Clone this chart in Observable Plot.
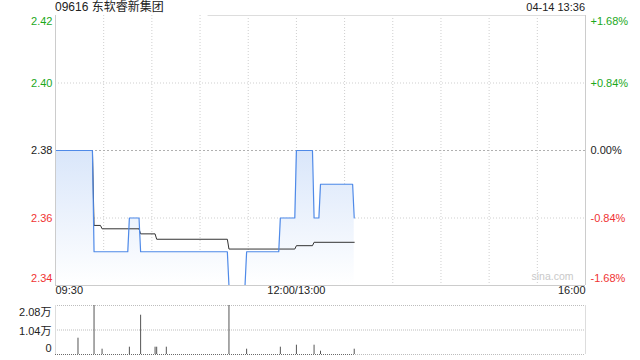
<!DOCTYPE html>
<html>
<head>
<meta charset="utf-8">
<script src="https://cdn.jsdelivr.net/npm/d3@7"></script>
<script src="https://cdn.jsdelivr.net/npm/@observablehq/plot@0.6"></script>
<style>
  html, body { margin: 0; padding: 0; background: #fff; }
  #wrap { position: relative; width: 640px; height: 360px; overflow: hidden; }
  .hdr { position: absolute; top: 0; line-height: 14px; color: #222;
         font-family: "Liberation Sans", Arial, "Noto Sans CJK SC", sans-serif; white-space: nowrap; }
  #title { left: 55px; font-size: 12px; }
  #stamp { right: 55px; font-size: 11px; }
  svg { display: block; }
</style>
</head>
<body>
<div id="wrap">
  <div id="main"></div>
  <div id="vol"></div>
  <div class="hdr" id="title"></div>
  <div class="hdr" id="stamp"></div>
</div>
<script>
// ---------- data ----------
const titleText = "09616 东软睿新集团";
const stampText = "04-14 13:36";
const prevClose = 2.38;

const priceTimes  = ["09:30","09:53","09:54","10:15","10:16","10:22","10:23","11:17","11:18","11:28","11:29","11:49","11:50","11:59","12:00","13:10","13:11","13:14","13:15","13:35","13:36"];
const priceValues = [2.38,  2.38,   2.35,   2.35,   2.36,   2.36,   2.35,   2.35,   2.34,   2.34,   2.35,   2.35,   2.36,   2.36,   2.38,   2.38,   2.36,   2.36,   2.37,   2.37,   2.36];

const avgTimes  = ["09:30","09:53","09:54","09:58","09:59","10:22","10:23","10:32","10:33","11:17","11:18","11:59","12:00","13:10","13:11","13:36"];
const avgValues = [2.38,  2.38,   2.3578, 2.3578, 2.3568, 2.3568, 2.3553, 2.3553, 2.3537, 2.3537, 2.3508, 2.3508, 2.3518, 2.3518, 2.3528, 2.3528];

const volTimes  = ["09:44","09:54","09:59","10:16","10:23","10:32","10:33","10:39","11:18","11:29","11:50","12:00","13:11","13:15","13:36"];
const volValues = [6920,  20800,  2250,   3100,   16680,  3100,   3100,   3100,   20800,  2250,   3100,   3950,   3950,   1400,   2250];

const priceTicks = [2.42, 2.40, 2.38, 2.36, 2.34];
const volTicks = [20800, 10400, 0];
const gridTimes = ["10:00","10:30","11:00","11:30","12:00","13:30","14:00","14:30","15:00","15:30"];
const xLabels = ["09:30", "12:00/13:00", "16:00"];
const watermark = "sina.com";

// ---------- helpers ----------
function idx(t) {
  const [h, m] = t.split("/")[0].split(":").map(Number);
  const mm = h * 60 + m;
  return mm <= 720 ? mm - 570 : 150 + (mm - 780);
}
const price = priceTimes.map((t, i) => ({i: idx(t), p: priceValues[i]}));
const avg = avgTimes.map((t, i) => ({i: idx(t), p: avgValues[i]}));
const vol = volTimes.map((t, i) => ({i: idx(t), v: volValues[i]}));
const endIdx = idx("16:00");
const GREEN = "#1ba81b", RED = "#f03333", DARK = "#222";
const colorOf = d => d > prevClose + 1e-9 ? GREEN : d < prevClose - 1e-9 ? RED : DARK;
const pct = d => { const v = (d - prevClose) / prevClose * 100; return (v > 0.00001 ? "+" : "") + (Math.abs(v) < 1e-6 ? 0 : v).toFixed(2) + "%"; };
const font = "'Liberation Sans', Arial, 'Noto Sans CJK SC', sans-serif";
const yMin = priceTicks[priceTicks.length - 1], yMax = priceTicks[0];
const midTicks = priceTicks.slice(1, -1);

document.getElementById("title").textContent = titleText;
document.getElementById("stamp").textContent = stampText;

// ---------- main chart ----------
const main = Plot.plot({
  width: 640, height: 300,
  marginLeft: 55, marginRight: 55, marginTop: 15, marginBottom: 15,
  x: {domain: [0, endIdx], axis: null},
  y: {domain: [yMin, yMax], axis: null},
  color: {type: "identity"},
  style: {fontFamily: font, fontSize: "11px", background: "transparent", overflow: "visible"},
  marks: [
    Plot.ruleX(gridTimes.map(idx), {stroke: "#cfcfcf", strokeDasharray: "1,2"}),
    Plot.ruleY([2.40, 2.36], {stroke: "#cfcfcf", strokeDasharray: "1,2"}),
    Plot.ruleY([prevClose], {stroke: "#b0b0b0", strokeDasharray: "2,2"}),
    Plot.area(price, {x1: "i", y1: () => yMin, y2: "p", fill: "url(#pgrad)"}),
    Plot.line(avg, {x: "i", y: "p", stroke: "#333", strokeWidth: 1}),
    Plot.line(price, {x: "i", y: "p", stroke: "#4f8ae8", strokeWidth: 1.2}),
    Plot.ruleX([0, endIdx], {stroke: "#cccccc"}),
    Plot.ruleY([yMin], {stroke: "#cccccc"}),
    Plot.ruleY([yMax], {x1: idx("11:05"), x2: endIdx, stroke: "#dddddd"}),
    // left axis labels
    Plot.text(midTicks, {y: d => d, text: d => d.toFixed(2), fill: colorOf, frameAnchor: "left", textAnchor: "end", dx: -3}),
    Plot.text([yMax], {y: d => d, text: d => d.toFixed(2), fill: colorOf, frameAnchor: "left", textAnchor: "end", dx: -3, dy: 6}),
    Plot.text([yMin], {y: d => d, text: d => d.toFixed(2), fill: colorOf, frameAnchor: "left", textAnchor: "end", dx: -3, dy: -7}),
    // right axis labels
    Plot.text(midTicks, {y: d => d, text: pct, fill: colorOf, frameAnchor: "right", textAnchor: "start", dx: 5}),
    Plot.text([yMax], {y: d => d, text: pct, fill: colorOf, frameAnchor: "right", textAnchor: "start", dx: 5, dy: 6}),
    Plot.text([yMin], {y: d => d, text: pct, fill: colorOf, frameAnchor: "right", textAnchor: "start", dx: 5, dy: -7}),
    // x labels
    Plot.text([xLabels[0]], {x: idx, text: d => d, frameAnchor: "bottom", textAnchor: "start", dy: 8, fill: DARK}),
    Plot.text([xLabels[1]], {x: idx, text: d => d, frameAnchor: "bottom", textAnchor: "middle", dy: 8, fill: DARK}),
    Plot.text([xLabels[2]], {x: idx, text: d => d, frameAnchor: "bottom", textAnchor: "end", dy: 8, fill: DARK}),
    // watermark
    Plot.text([watermark], {text: d => d, frameAnchor: "bottom-right", textAnchor: "end", dx: -12, dy: -6, fill: "#c9c9c9", fontSize: 10.5})
  ]
});
d3.select(main).insert("defs", ":first-child").html(
  '<linearGradient id="pgrad" x1="0" y1="0" x2="0" y2="1">' +
  '<stop offset="0" stop-color="#d9e6fa"/><stop offset="1" stop-color="#ffffff"/></linearGradient>');
document.getElementById("main").appendChild(main);

// ---------- volume chart ----------
const volFmt = v => v === 0 ? "0" : (v / 10000).toFixed(2) + "万";
const volChart = Plot.plot({
  width: 640, height: 60,
  marginLeft: 55, marginRight: 55, marginTop: 5, marginBottom: 6,
  x: {domain: [0, endIdx], axis: null},
  y: {domain: [0, volTicks[0]], axis: null},
  style: {fontFamily: font, fontSize: "11px", background: "transparent", overflow: "visible"},
  marks: [
    Plot.ruleY(volTicks, {stroke: "#bdbdbd", strokeDasharray: "1,1"}),
    Plot.ruleY([0], {x1: idx(priceTimes[0]), x2: idx(priceTimes[priceTimes.length - 1]), stroke: "#6a6a6a", strokeDasharray: "1,1"}),
    Plot.ruleX([0, endIdx], {stroke: "#dddddd"}),
    Plot.ruleX(vol, {x: "i", y1: () => 0, y2: "v", stroke: "#555", strokeWidth: 1}),
    Plot.text([volTicks[0]], {y: d => d, text: volFmt, frameAnchor: "left", textAnchor: "end", dx: -4, dy: 7, fill: DARK}),
    Plot.text([volTicks[1]], {y: d => d, text: volFmt, frameAnchor: "left", textAnchor: "end", dx: -4, dy: 1, fill: DARK}),
    Plot.text([volTicks[2]], {y: d => d, text: volFmt, frameAnchor: "left", textAnchor: "end", dx: -4, dy: -6, fill: DARK})
  ]
});
document.getElementById("vol").appendChild(volChart);
</script>
</body>
</html>
